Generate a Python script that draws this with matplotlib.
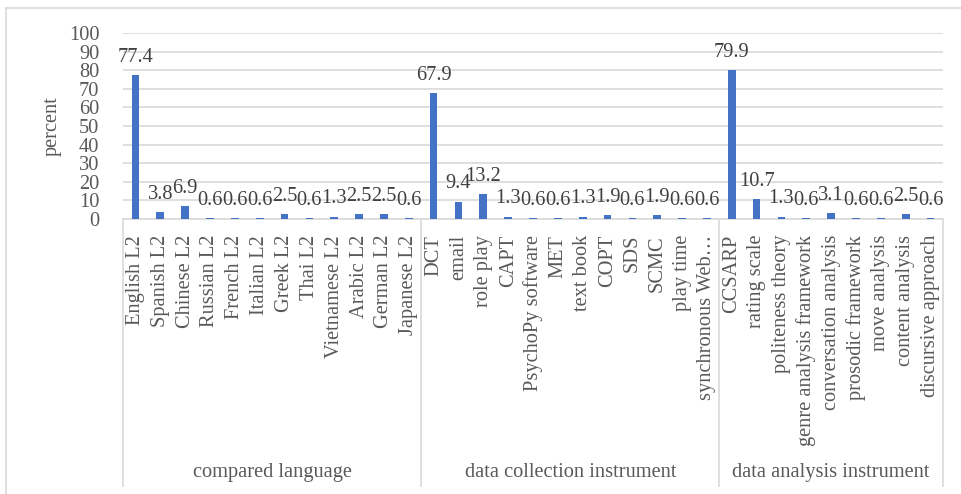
import matplotlib
matplotlib.use("Agg")
import matplotlib.pyplot as plt
from matplotlib.lines import Line2D

plt.rcParams['font.family'] = ['Liberation Serif', 'DejaVu Serif']

groups = ["compared language", "data collection instrument", "data analysis instrument"]

languages = ["English L2", "Spanish L2", "Chinese L2", "Russian L2", "French L2",
             "Italian L2", "Greek L2", "Thai L2", "Vietnamese L2", "Arabic L2",
             "German L2", "Japanese L2"]
language_pct = [77.4, 3.8, 6.9, 0.6, 0.6, 0.6, 2.5, 0.6, 1.3, 2.5, 2.5, 0.6]

collection = ["DCT", "email", "role play", "CAPT", "PsychoPy software", "MET",
              "text book", "COPT", "SDS", "SCMC", "play time", "synchronous Web\u2026"]
collection_pct = [67.9, 9.4, 13.2, 1.3, 0.6, 0.6, 1.3, 1.9, 0.6, 1.9, 0.6, 0.6]

analysis = ["CCSARP", "rating scale", "politeness theory", "genre analysis framework",
            "conversation analysis", "prosodic framework", "move analysis",
            "content analysis", "discursive approach"]
analysis_pct = [79.9, 10.7, 1.3, 0.6, 3.1, 0.6, 0.6, 2.5, 0.6]

yticks = list(range(0, 101, 10))

labels = languages + collection + analysis
values = language_pct + collection_pct + analysis_pct
group_sizes = [len(languages), len(collection), len(analysis)]

W, H = 962, 494
fig = plt.figure(figsize=(W / 100, H / 100), dpi=100)

x0, x1, y_top, y_zero = 123, 943, 33, 219
ax = fig.add_axes([x0 / W, 1 - y_zero / H, (x1 - x0) / W, (y_zero - y_top) / H])

bar_color = "#4472C4"
grid_color = "#D9D9D9"
text_color = "#595959"
label_color = "#404040"
fs = 14.7

xs = list(range(len(labels)))
ax.bar(xs, values, width=0.31, color=bar_color, zorder=3)

for x, v in zip(xs, values):
    ax.annotate(f"{v:.1f}", (x, v), xytext=(0, 9.5), textcoords="offset points",
                ha="center", va="baseline", fontsize=fs, color=label_color, zorder=4)

ax.set_xlim(-0.5, len(labels) - 0.5)
ax.set_ylim(0, 100)
ax.set_yticks(yticks)
ax.set_yticklabels([str(t) for t in yticks], fontsize=fs, color=text_color)
ax.yaxis.grid(True, color=grid_color, linewidth=1.2, zorder=0)
ax.tick_params(axis="y", length=0, pad=17)

ax.set_xticks(xs)
ax.set_xticklabels(labels, rotation=90, fontsize=fs, color=text_color, va="top", ha="center")
ax.tick_params(axis="x", length=0, pad=11.5)

for side in ["left", "right", "top"]:
    ax.spines[side].set_visible(False)
ax.spines["bottom"].set_color(grid_color)
ax.spines["bottom"].set_linewidth(1.2)

ax.set_ylabel("percent", fontsize=fs, color=text_color)
ax.yaxis.set_label_coords((62 - x0) / (x1 - x0), 0.5)

# group separators and group captions below the category labels
ax_h = y_zero - y_top
y_sep_bottom = -(486 - y_zero) / ax_h
y_group = -(472 - y_zero) / ax_h
tr = ax.get_xaxis_transform()
edges = [-0.5]
for n in group_sizes:
    edges.append(edges[-1] + n)
for e in edges:
    ax.add_line(Line2D([e, e], [0, y_sep_bottom], transform=tr, color=grid_color,
                       linewidth=1.2, clip_on=False))
for name, a, b in zip(groups, edges[:-1], edges[1:]):
    ax.text((a + b) / 2, y_group, name, transform=tr, ha="center", va="center",
            fontsize=fs, color=text_color)

# chart frame (left and top edges fall inside the canvas)
fig.add_artist(Line2D([6 / W, 6 / W], [0, 1 - 8 / H], transform=fig.transFigure,
                      color=grid_color, linewidth=1.2))
fig.add_artist(Line2D([6 / W, 1], [1 - 8 / H, 1 - 8 / H], transform=fig.transFigure,
                      color=grid_color, linewidth=1.2))

fig.savefig("out.png", dpi=100, facecolor="white")
